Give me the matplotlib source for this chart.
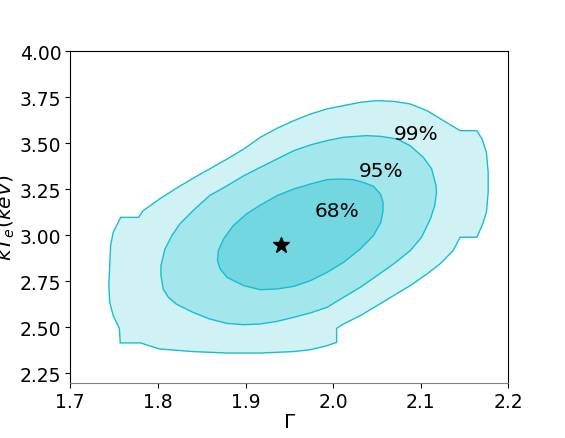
import matplotlib
matplotlib.use('Agg')
import matplotlib.pyplot as plt
import numpy as np

# contour outlines (Gamma, kTe)
outer_x = [2.050, 2.069, 2.088, 2.107, 2.126, 2.145, 2.164, 2.170, 2.175, 2.177,
           2.177, 2.175, 2.170, 2.164, 2.145, 2.137, 2.122, 2.107, 2.088, 2.069,
           2.050, 2.031, 2.012, 2.004, 2.004, 1.993, 1.974, 1.955, 1.917, 1.879,
           1.840, 1.802, 1.780, 1.757, 1.756, 1.749, 1.745, 1.744, 1.745, 1.746,
           1.749, 1.7575, 1.778, 1.783, 1.802, 1.821, 1.840, 1.859, 1.879, 1.898,
           1.917, 1.936, 1.955, 1.974, 1.993, 2.012, 2.031]
outer_y = [3.732, 3.728, 3.714, 3.678, 3.623, 3.569, 3.569, 3.524, 3.451, 3.343,
           3.234, 3.125, 3.053, 2.990, 2.990, 2.917, 2.845, 2.790, 2.727, 2.673,
           2.618, 2.564, 2.519, 2.495, 2.419, 2.401, 2.379, 2.369, 2.361, 2.361,
           2.369, 2.383, 2.416, 2.416, 2.495, 2.564, 2.637, 2.727, 2.836, 2.944,
           3.017, 3.098, 3.098, 3.134, 3.198, 3.256, 3.310, 3.361, 3.415, 3.469,
           3.533, 3.582, 3.623, 3.659, 3.687, 3.705, 3.723]

mid_x = [2.038, 2.054, 2.073, 2.088, 2.103, 2.1125, 2.1175, 2.118, 2.116, 2.111,
         2.101, 2.088, 2.069, 2.050, 2.031, 2.012, 1.993, 1.974, 1.955, 1.936,
         1.917, 1.898, 1.879, 1.859, 1.840, 1.821, 1.812, 1.806, 1.8035, 1.8035,
         1.808, 1.816, 1.825, 1.840, 1.859, 1.879, 1.898, 1.917, 1.936, 1.955,
         1.974, 1.993, 2.012]
mid_y = [3.542, 3.538, 3.524, 3.487, 3.424, 3.361, 3.270, 3.234, 3.162, 3.089,
         2.990, 2.917, 2.845, 2.781, 2.718, 2.664, 2.609, 2.579, 2.555, 2.533,
         2.519, 2.515, 2.522, 2.546, 2.582, 2.627, 2.664, 2.709, 2.781, 2.836,
         2.926, 2.999, 3.062, 3.134, 3.216, 3.270, 3.324, 3.370, 3.415, 3.460,
         3.491, 3.515, 3.533]

inner_x = [2.008, 2.023, 2.0345, 2.046, 2.054, 2.057, 2.057, 2.0545, 2.046, 2.031,
           2.012, 1.993, 1.974, 1.955, 1.936, 1.917, 1.898, 1.879, 1.871, 1.868,
           1.869, 1.875, 1.886, 1.901, 1.917, 1.936, 1.955, 1.974, 1.993]
inner_y = [3.306, 3.303, 3.288, 3.267, 3.225, 3.180, 3.134, 3.071, 2.999, 2.926,
           2.854, 2.799, 2.754, 2.723, 2.709, 2.705, 2.727, 2.772, 2.818, 2.863,
           2.917, 2.981, 3.053, 3.116, 3.165, 3.216, 3.252, 3.279, 3.303]

best_fit = (1.94, 2.95)
level_labels = ['99%', '95%', '68%']
label_pos = [(2.095, 3.554), (2.0545, 3.352), (2.004, 3.134)]

edge = '#17becf'
fills = ['#d1f2f5', '#a3e6ec', '#72d7e1']

fig = plt.figure(figsize=(5.65, 4.39), dpi=100)
ax = fig.add_axes([0.1244, 0.1260, 0.7753, 0.7549])

for xs, ys, fc in zip([outer_x, mid_x, inner_x], [outer_y, mid_y, inner_y], fills):
    ax.fill(xs, ys, facecolor=fc, edgecolor=edge, linewidth=1.0)

ax.plot(best_fit[0], best_fit[1], marker='*', color='black', markersize=12, linestyle='none')

for txt, (tx, ty) in zip(level_labels, label_pos):
    ax.text(tx, ty, txt, fontsize=14.5, ha='center', va='center')

ax.set_xlim(1.7, 2.2)
ax.set_ylim(2.2, 4.0)
ax.set_xticks(np.arange(1.7, 2.21, 0.1))
ax.set_xticklabels(['1.7', '1.8', '1.9', '2.0', '2.1', '2.2'])
ax.set_yticks(np.arange(2.25, 4.01, 0.25))
ax.tick_params(labelsize=13.5, pad=3)
ax.spines['bottom'].set_color('#808080')
ax.set_xlabel(r'$\Gamma$', fontsize=14.5, labelpad=1)
ax.set_ylabel(r'$kT_e(keV)$', fontsize=14.5)
ax.yaxis.set_label_coords(-0.122, 0.5)

plt.savefig('out.png', dpi=100)
plt.close()
